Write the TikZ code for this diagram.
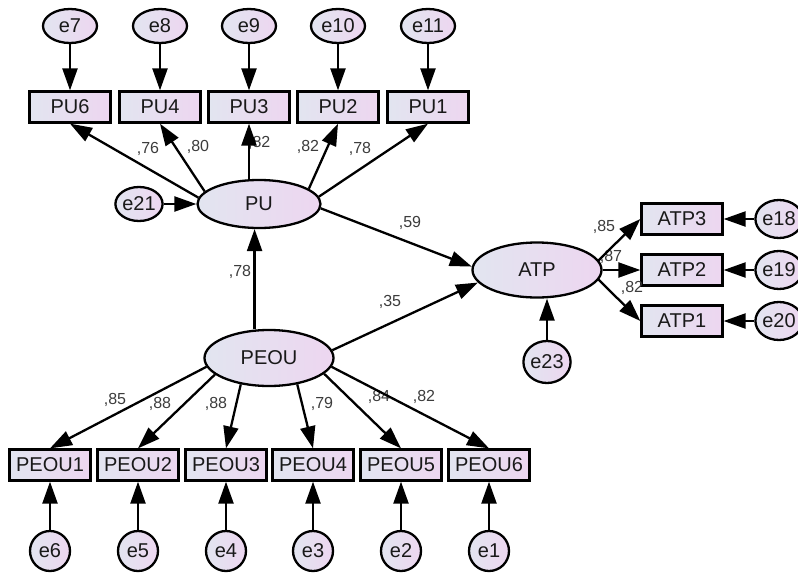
\documentclass[tikz,border=0pt]{standalone}
\usepackage{fontspec}
\setmainfont{Liberation Sans}
\usetikzlibrary{shapes.geometric,arrows.meta}
\definecolor{fillL}{RGB}{226,229,240}
\definecolor{fillR}{RGB}{237,214,240}
\definecolor{ink}{RGB}{25,25,25}
\definecolor{lblgray}{RGB}{60,60,60}
\begin{document}
\begin{tikzpicture}[x=1pt,y=-1pt,line width=2.3pt,
            obs/.style={rectangle, draw, left color=fillL, right color=fillR, minimum width=81pt, minimum height=31pt, inner sep=0pt, text=ink, font=\fontsize{20}{22}\selectfont},
            lat/.style={ellipse, draw, left color=fillL, right color=fillR, inner sep=0pt, text=ink, font=\fontsize{20}{22}\selectfont},
            err/.style={lat, minimum width=40pt, minimum height=40pt},
            lbl/.style={inner sep=0pt, text=lblgray, font=\fontsize{16}{18}\selectfont},
            arr/.style={-{Triangle[length=22pt,width=15pt]}}]
            \useasboundingbox (0,0) rectangle (798,573);
            \node[err, minimum width=54pt, minimum height=34pt] (e7) at (70,26) {e7};
            \node[err, minimum width=54pt, minimum height=34pt] (e8) at (160,26) {e8};
            \node[err, minimum width=54pt, minimum height=34pt] (e9) at (249,26) {e9};
            \node[err, minimum width=54pt, minimum height=34pt] (e10) at (338,26) {e10};
            \node[err, minimum width=54pt, minimum height=34pt] (e11) at (428,26) {e11};
            \node[obs] (pu6) at (70,107) {PU6};
            \node[obs] (pu4) at (160,107) {PU4};
            \node[obs] (pu3) at (249,107) {PU3};
            \node[obs] (pu2) at (338,107) {PU2};
            \node[obs] (pu1) at (428,107) {PU1};
            \node[lat, minimum width=123pt, minimum height=48pt] (pu) at (259,204) {PU};
            \node[err, minimum width=34pt, minimum height=34pt] (e21) at (139,204) {e21};
            \node[lat, minimum width=129pt, minimum height=55pt] (atp) at (537,270) {ATP};
            \node[obs] (atp3) at (682,219) {ATP3};
            \node[obs] (atp2) at (682,270) {ATP2};
            \node[obs] (atp1) at (682,321) {ATP1};
            \node[err, minimum width=42pt, minimum height=38pt] (e18) at (779,219) {e18};
            \node[err, minimum width=42pt, minimum height=38pt] (e19) at (779,270) {e19};
            \node[err, minimum width=42pt, minimum height=38pt] (e20) at (779,321) {e20};
            \node[err, minimum width=42pt, minimum height=42pt] (e23) at (547,362) {e23};
            \node[lat, minimum width=129pt, minimum height=56pt] (peou) at (269,358) {PEOU};
            \node[obs] (peou1) at (50,465) {PEOU1};
            \node[obs] (peou2) at (138,465) {PEOU2};
            \node[obs] (peou3) at (226,465) {PEOU3};
            \node[obs] (peou4) at (313,465) {PEOU4};
            \node[obs] (peou5) at (401,465) {PEOU5};
            \node[obs] (peou6) at (489,465) {PEOU6};
            \node[err] (e6) at (50,551) {e6};
            \node[err] (e5) at (138,551) {e5};
            \node[err] (e4) at (226,551) {e4};
            \node[err] (e3) at (313,551) {e3};
            \node[err] (e2) at (401,551) {e2};
            \node[err] (e1) at (489,551) {e1};

            \node[lbl] (lpu6) at (148,149) {,76};
            \node[lbl] (lpu4) at (198,147) {,80};
            \node[lbl, anchor=west] (lpu3) at (247,143) {,82};
            \node[lbl] (lpu2) at (308,147) {,82};
            \node[lbl] (lpu1) at (360,149) {,78};
            \node[lbl] (lpuatp) at (410,223) {,59};
            \node[lbl] (lpeoupu) at (240,272) {,78};
            \node[lbl] (lpeouatp) at (390,302) {,35};
            \node[lbl] (latp3) at (604,227) {,85};
            \node[lbl] (latp2) at (611,257) {,87};
            \node[lbl] (latp1) at (632,288) {,82};
            \node[lbl] (lpeou1) at (115,400) {,85};
            \node[lbl] (lpeou2) at (160,404) {,88};
            \node[lbl] (lpeou3) at (216,404) {,88};
            \node[lbl] (lpeou4) at (322,404) {,79};
            \node[lbl] (lpeou5) at (379,397) {,84};
            \node[lbl] (lpeou6) at (424,397) {,82};

            \draw[arr] (e7) -- (pu6);
            \draw[arr] (e8) -- (pu4);
            \draw[arr] (e9) -- (pu3);
            \draw[arr] (e10) -- (pu2);
            \draw[arr] (e11) -- (pu1);
            \draw[arr] (pu.174) -- (pu6.south);
            \draw[arr] (pu.167) -- (pu4.south);
            \draw[arr] (pu3.south |- pu.north) -- (pu3.south);
            \draw[arr] (pu.17) -- (pu2.south);
            \draw[arr] (pu.7) -- (pu1.south);
            \draw[arr] (e21) -- (pu);
            \draw[arr] (pu.356) -- (atp.177);
            \draw[arr] (pu.260 |- peou.north) -- (pu.260);
            \draw[arr] (peou.7) -- (atp.192);
            \draw[arr] (atp.9) -- (atp3.west);
            \draw[arr] (atp) -- (atp2);
            \draw[arr] (atp.351) -- (atp1.west);
            \draw[arr] (e18) -- (atp3);
            \draw[arr] (e19) -- (atp2);
            \draw[arr] (e20) -- (atp1);
            \draw[arr] (e23.north) -- (e23.north |- atp.south);
            \draw[arr] (peou.188) -- (peou1.north);
            \draw[arr] (peou.197) -- (peou2.north);
            \draw[arr] (peou.223) -- (peou3.north);
            \draw[arr] (peou.317) -- (peou4.north);
            \draw[arr] (peou.344) -- (peou5.north);
            \draw[arr] (peou.352) -- (peou6.north);
            \draw[arr] (e6) -- (peou1);
            \draw[arr] (e5) -- (peou2);
            \draw[arr] (e4) -- (peou3);
            \draw[arr] (e3) -- (peou4);
            \draw[arr] (e2) -- (peou5);
            \draw[arr] (e1) -- (peou6);
            \end{tikzpicture}
\end{document}
